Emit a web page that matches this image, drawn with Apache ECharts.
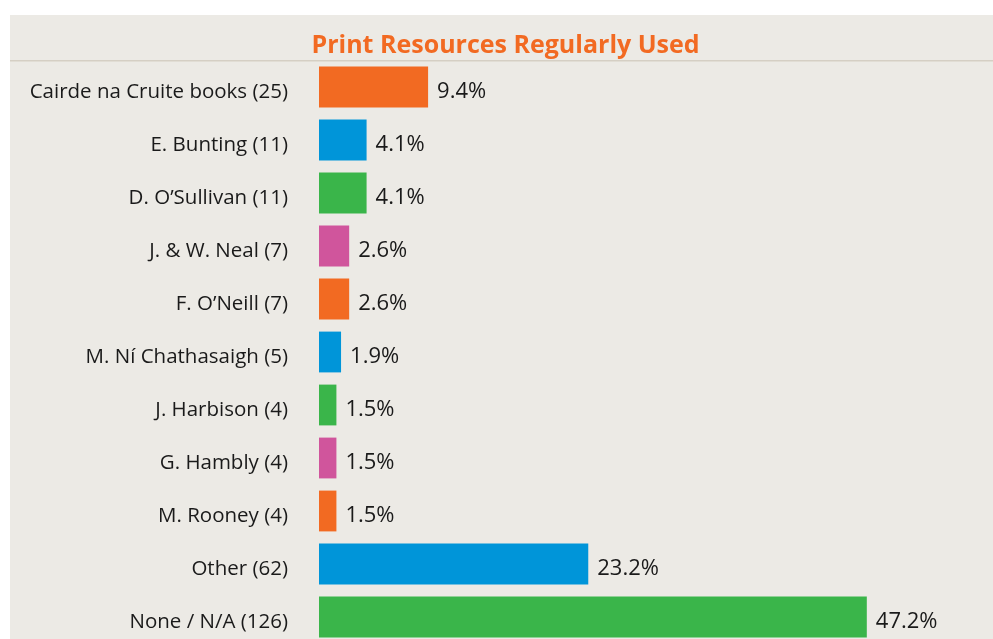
<!DOCTYPE html>
<html>
<head>
<meta charset="utf-8">
<style>
  html, body { margin: 0; padding: 0; background: #ffffff; overflow: hidden; }
  #chart { width: 993px; height: 660px; }
</style>
<script src="https://cdn.jsdelivr.net/npm/echarts@6/dist/echarts.min.js"></script>
</head>
<body>
<div id="chart"></div>
<script>
// Print resources named by respondents, with share of responses (%)
const categories = [
  'Cairde na Cruite books (25)',
  'E. Bunting (11)',
  'D. O\u2019Sullivan (11)',
  'J. & W. Neal (7)',
  'F. O\u2019Neill (7)',
  'M. N\u00ed Chathasaigh (5)',
  'J. Harbison (4)',
  'G. Hambly (4)',
  'M. Rooney (4)',
  'Other (62)',
  'None / N/A (126)'
];
const percentages = [9.4, 4.1, 4.1, 2.6, 2.6, 1.9, 1.5, 1.5, 1.5, 23.2, 47.2];
const palette = ['#F26A22', '#0095D9', '#3AB54A', '#D0559C'];

const chart = echarts.init(document.getElementById('chart'));
const font = '"Open Sans", "Noto Sans", sans-serif';

chart.setOption({
  animation: false,
  backgroundColor: '#ffffff',
  graphic: [
    { type: 'rect', z: -10, shape: { x: 10, y: 15, width: 983, height: 660 }, style: { fill: '#ECEAE5' } },
    { type: 'rect', z: -9, shape: { x: 10, y: 60, width: 983, height: 1.5 }, style: { fill: '#D5CFC4' } }
  ],
  title: {
    text: 'Print Resources Regularly Used',
    left: 306.5,
    top: 28,
    textStyle: { color: '#F26A22', fontFamily: font, fontWeight: 'bold', fontSize: 25 }
  },
  grid: { left: 319, top: 60.5, width: 580.3, height: 583, containLabel: false },
  xAxis: {
    type: 'value', min: 0, max: 50, show: false
  },
  yAxis: {
    type: 'category',
    inverse: true,
    data: categories,
    axisLine: { show: false },
    axisTick: { show: false },
    axisLabel: {
      margin: 31,
      color: '#1a1a1a',
      fontFamily: font,
      fontSize: 20.5,
      verticalAlign: 'top',
      lineHeight: 11
    }
  },
  series: [{
    type: 'bar',
    data: percentages.map((v, i) => ({ value: v, itemStyle: { color: palette[i % palette.length] } })),
    barCategoryGap: '23%',
    label: {
      show: true,
      position: 'right',
      distance: 9,
      offset: [0, 5],
      formatter: p => p.value.toFixed(1) + '%',
      color: '#1a1a1a',
      fontFamily: font,
      fontSize: 22
    }
  }]
});
</script>
</body>
</html>
